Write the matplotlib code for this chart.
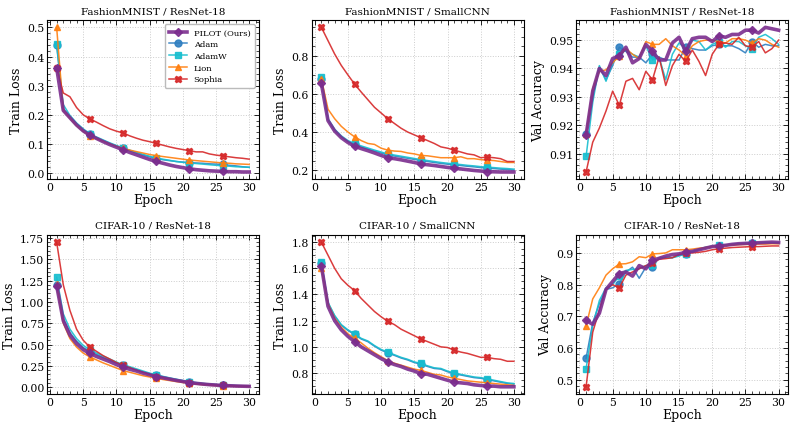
import numpy as np
import matplotlib
matplotlib.use('Agg')
import matplotlib.pyplot as plt
from matplotlib.ticker import MultipleLocator, AutoMinorLocator

epochs = np.arange(1, 31)
optimizers = ['PILOT (Ours)', 'Adam', 'AdamW', 'Lion', 'Sophia']

# FashionMNIST / ResNet-18 train loss
fm_res_loss = {
    'PILOT (Ours)': [0.362, 0.215, 0.19, 0.165, 0.145, 0.13, 0.119, 0.108, 0.098, 0.089, 0.08, 0.071, 0.063, 0.055, 0.047,
                     0.04, 0.034, 0.028, 0.023, 0.019, 0.015, 0.012, 0.01, 0.008, 0.007, 0.006, 0.005, 0.005, 0.004, 0.004],
    'Adam': [0.44, 0.22, 0.195, 0.17, 0.15, 0.133, 0.122, 0.112, 0.102, 0.093, 0.085, 0.077, 0.07, 0.063, 0.056,
             0.05, 0.046, 0.043, 0.04, 0.038, 0.036, 0.035, 0.034, 0.032, 0.031, 0.03, 0.027, 0.025, 0.022, 0.02],
    'AdamW': [0.442, 0.235, 0.198, 0.172, 0.152, 0.135, 0.124, 0.114, 0.104, 0.095, 0.087, 0.079, 0.071, 0.064, 0.058,
              0.052, 0.048, 0.044, 0.04, 0.037, 0.035, 0.033, 0.031, 0.029, 0.027, 0.025, 0.024, 0.022, 0.021, 0.02],
    'Lion': [0.5, 0.215, 0.188, 0.163, 0.143, 0.128, 0.118, 0.109, 0.1, 0.092, 0.085, 0.079, 0.074, 0.069, 0.064,
             0.06, 0.057, 0.054, 0.051, 0.048, 0.045, 0.043, 0.041, 0.039, 0.037, 0.035, 0.034, 0.032, 0.031, 0.03],
    'Sophia': [0.362, 0.275, 0.262, 0.225, 0.2, 0.186, 0.175, 0.163, 0.152, 0.144, 0.138, 0.128, 0.12, 0.113, 0.108,
               0.102, 0.096, 0.09, 0.085, 0.081, 0.077, 0.073, 0.073, 0.066, 0.062, 0.059, 0.056, 0.053, 0.051, 0.048],
}

# FashionMNIST / SmallCNN train loss
fm_cnn_loss = {
    'PILOT (Ours)': [0.655, 0.46, 0.405, 0.37, 0.345, 0.325, 0.313, 0.302, 0.29, 0.277, 0.265, 0.26, 0.254, 0.247, 0.24,
                     0.232, 0.228, 0.224, 0.219, 0.214, 0.21, 0.206, 0.202, 0.198, 0.195, 0.192, 0.191, 0.19, 0.19, 0.19],
    'Adam': [0.68, 0.465, 0.41, 0.375, 0.35, 0.335, 0.322, 0.311, 0.3, 0.29, 0.28, 0.274, 0.268, 0.262, 0.256,
             0.25, 0.245, 0.24, 0.235, 0.231, 0.228, 0.224, 0.22, 0.217, 0.213, 0.21, 0.208, 0.205, 0.203, 0.2],
    'AdamW': [0.687, 0.47, 0.415, 0.38, 0.355, 0.34, 0.327, 0.316, 0.305, 0.295, 0.285, 0.279, 0.273, 0.267, 0.261,
              0.255, 0.25, 0.245, 0.24, 0.236, 0.232, 0.229, 0.225, 0.222, 0.218, 0.215, 0.213, 0.21, 0.208, 0.205],
    'Lion': [0.68, 0.52, 0.47, 0.43, 0.4, 0.375, 0.355, 0.34, 0.335, 0.315, 0.305, 0.3, 0.298, 0.29, 0.285,
             0.277, 0.275, 0.27, 0.265, 0.265, 0.265, 0.27, 0.26, 0.26, 0.255, 0.252, 0.25, 0.245, 0.24, 0.24],
    'Sophia': [0.95, 0.88, 0.81, 0.75, 0.7, 0.652, 0.61, 0.57, 0.53, 0.5, 0.47, 0.445, 0.42, 0.4, 0.385,
               0.37, 0.355, 0.34, 0.322, 0.315, 0.305, 0.295, 0.285, 0.28, 0.265, 0.268, 0.265, 0.26, 0.245, 0.245],
}

# FashionMNIST / ResNet-18 val accuracy
fm_res_acc = {
    'PILOT (Ours)': [0.9165, 0.932, 0.940, 0.9375, 0.9435, 0.9445, 0.9475, 0.942, 0.9435, 0.9485, 0.946, 0.943, 0.943, 0.949, 0.951,
                     0.946, 0.9505, 0.951, 0.951, 0.9495, 0.9515, 0.951, 0.952, 0.952, 0.9535, 0.9535, 0.9525, 0.9545, 0.954, 0.9535],
    'Adam': [0.917, 0.930, 0.9405, 0.936, 0.941, 0.9475, 0.946, 0.944, 0.944, 0.942, 0.945, 0.944, 0.943, 0.943, 0.943,
             0.9475, 0.947, 0.9465, 0.9465, 0.948, 0.9485, 0.948, 0.948, 0.947, 0.9455, 0.9495, 0.9475, 0.9485, 0.948, 0.948],
    'AdamW': [0.909, 0.928, 0.941, 0.9355, 0.942, 0.945, 0.9465, 0.945, 0.944, 0.948, 0.943, 0.944, 0.936, 0.945, 0.949,
              0.947, 0.950, 0.9495, 0.9465, 0.9485, 0.9495, 0.9475, 0.9495, 0.9495, 0.948, 0.947, 0.951, 0.952, 0.9505, 0.9485],
    'Lion': [0.917, 0.933, 0.939, 0.9395, 0.942, 0.9445, 0.947, 0.945, 0.9435, 0.9495, 0.9485, 0.9485, 0.9505, 0.948, 0.9465,
             0.9445, 0.948, 0.9495, 0.950, 0.950, 0.9495, 0.949, 0.9505, 0.9505, 0.950, 0.949, 0.9505, 0.950, 0.9485, 0.9475],
    'Sophia': [0.9035, 0.914, 0.919, 0.925, 0.932, 0.927, 0.9355, 0.9365, 0.9325, 0.939, 0.936, 0.944, 0.934, 0.941, 0.945,
               0.9425, 0.9465, 0.9425, 0.9375, 0.945, 0.9485, 0.949, 0.9485, 0.951, 0.948, 0.9475, 0.9495, 0.9455, 0.947, 0.950],
}

# CIFAR-10 / ResNet-18 train loss
c10_res_loss = {
    'PILOT (Ours)': [1.19, 0.78, 0.61, 0.51, 0.44, 0.395, 0.36, 0.33, 0.3, 0.265, 0.235, 0.21, 0.19, 0.165, 0.145,
                     0.125, 0.11, 0.095, 0.08, 0.067, 0.055, 0.045, 0.037, 0.03, 0.025, 0.02, 0.017, 0.014, 0.012, 0.01],
    'Adam': [1.2, 0.8, 0.64, 0.54, 0.465, 0.42, 0.385, 0.35, 0.315, 0.285, 0.255, 0.23, 0.205, 0.18, 0.16,
             0.14, 0.122, 0.105, 0.09, 0.075, 0.06, 0.05, 0.042, 0.035, 0.03, 0.025, 0.021, 0.018, 0.015, 0.013],
    'AdamW': [1.29, 0.86, 0.68, 0.57, 0.49, 0.44, 0.4, 0.365, 0.33, 0.295, 0.265, 0.24, 0.215, 0.19, 0.165,
              0.145, 0.127, 0.11, 0.094, 0.079, 0.065, 0.054, 0.045, 0.037, 0.031, 0.025, 0.022, 0.019, 0.017, 0.015],
    'Lion': [1.21, 0.75, 0.57, 0.47, 0.4, 0.355, 0.32, 0.285, 0.255, 0.225, 0.195, 0.175, 0.155, 0.135, 0.12,
             0.105, 0.09, 0.078, 0.066, 0.055, 0.045, 0.036, 0.029, 0.023, 0.018, 0.015, 0.011, 0.009, 0.007, 0.005],
    'Sophia': [1.7, 1.2, 0.9, 0.68, 0.55, 0.47, 0.42, 0.37, 0.33, 0.29, 0.255, 0.23, 0.2, 0.175, 0.15,
               0.125, 0.11, 0.095, 0.08, 0.065, 0.05, 0.04, 0.035, 0.03, 0.025, 0.02, 0.018, 0.015, 0.013, 0.012],
}

# CIFAR-10 / SmallCNN train loss
c10_cnn_loss = {
    'PILOT (Ours)': [1.62, 1.31, 1.2, 1.13, 1.08, 1.04, 1.0, 0.97, 0.94, 0.91, 0.885, 0.865, 0.85, 0.83, 0.815,
                     0.795, 0.79, 0.775, 0.76, 0.745, 0.73, 0.725, 0.72, 0.71, 0.705, 0.7, 0.7, 0.695, 0.695, 0.695],
    'Adam': [1.64, 1.335, 1.235, 1.165, 1.125, 1.095, 1.06, 1.04, 1.005, 0.975, 0.955, 0.935, 0.915, 0.9, 0.88,
             0.868, 0.85, 0.835, 0.83, 0.81, 0.795, 0.785, 0.775, 0.765, 0.76, 0.75, 0.74, 0.73, 0.72, 0.715],
    'AdamW': [1.645, 1.34, 1.24, 1.17, 1.13, 1.1, 1.065, 1.045, 1.01, 0.98, 0.96, 0.94, 0.92, 0.905, 0.885,
              0.873, 0.855, 0.84, 0.835, 0.815, 0.8, 0.79, 0.78, 0.77, 0.765, 0.755, 0.745, 0.735, 0.725, 0.72],
    'Lion': [1.6, 1.33, 1.22, 1.15, 1.1, 1.065, 1.03, 0.99, 0.955, 0.925, 0.895, 0.875, 0.86, 0.845, 0.83,
             0.82, 0.805, 0.79, 0.785, 0.77, 0.76, 0.75, 0.74, 0.735, 0.73, 0.725, 0.72, 0.715, 0.71, 0.705],
    'Sophia': [1.8, 1.7, 1.6, 1.52, 1.47, 1.43, 1.37, 1.32, 1.27, 1.23, 1.195, 1.17, 1.135, 1.11, 1.085,
               1.06, 1.04, 1.02, 1.0, 0.995, 0.975, 0.96, 0.95, 0.935, 0.92, 0.92, 0.91, 0.905, 0.89, 0.89],
}

# CIFAR-10 / ResNet-18 val accuracy
c10_res_acc = {
    'PILOT (Ours)': [0.687, 0.675, 0.71, 0.785, 0.81, 0.835, 0.84, 0.827, 0.86, 0.85, 0.877, 0.883, 0.89, 0.895, 0.897,
                     0.902, 0.905, 0.91, 0.915, 0.92, 0.922, 0.924, 0.927, 0.929, 0.93, 0.931, 0.932, 0.933, 0.934, 0.933],
    'Adam': [0.568, 0.68, 0.74, 0.785, 0.79, 0.803, 0.84, 0.855, 0.82, 0.855, 0.855, 0.885, 0.886, 0.885, 0.893,
             0.897, 0.903, 0.91, 0.916, 0.92, 0.923, 0.925, 0.927, 0.929, 0.93, 0.932, 0.932, 0.933, 0.933, 0.932],
    'AdamW': [0.535, 0.67, 0.75, 0.79, 0.8, 0.828, 0.845, 0.848, 0.85, 0.86, 0.862, 0.885, 0.885, 0.885, 0.89,
              0.898, 0.905, 0.912, 0.918, 0.921, 0.925, 0.925, 0.927, 0.929, 0.93, 0.932, 0.932, 0.933, 0.932, 0.932],
    'Lion': [0.67, 0.755, 0.79, 0.83, 0.85, 0.865, 0.866, 0.872, 0.888, 0.885, 0.897, 0.898, 0.9, 0.91, 0.91,
             0.91, 0.912, 0.915, 0.917, 0.92, 0.922, 0.923, 0.925, 0.926, 0.927, 0.927, 0.928, 0.928, 0.929, 0.929],
    'Sophia': [0.478, 0.65, 0.72, 0.785, 0.8, 0.79, 0.83, 0.84, 0.85, 0.86, 0.868, 0.88, 0.882, 0.885, 0.895,
               0.9, 0.9, 0.902, 0.905, 0.91, 0.913, 0.915, 0.917, 0.918, 0.919, 0.92, 0.92, 0.921, 0.922, 0.922],
}

panels = [
    ('FashionMNIST / ResNet-18', 'Train Loss', fm_res_loss, 0.1),
    ('FashionMNIST / SmallCNN', 'Train Loss', fm_cnn_loss, 0.2),
    ('FashionMNIST / ResNet-18', 'Val Accuracy', fm_res_acc, 0.01),
    ('CIFAR-10 / ResNet-18', 'Train Loss', c10_res_loss, 0.25),
    ('CIFAR-10 / SmallCNN', 'Train Loss', c10_cnn_loss, 0.2),
    ('CIFAR-10 / ResNet-18', 'Val Accuracy', c10_res_acc, 0.1),
]

colors = {'PILOT (Ours)': '#7b2d8e', 'Adam': '#2f7fc1', 'AdamW': '#17becf',
          'Lion': '#ff7f0e', 'Sophia': '#d62728'}
markers = {'PILOT (Ours)': 'D', 'Adam': 'o', 'AdamW': 's', 'Lion': '^', 'Sophia': 'X'}

plt.rcParams['font.family'] = ['DejaVu Serif']
plt.rcParams['xtick.direction'] = 'in'
plt.rcParams['ytick.direction'] = 'in'
plt.rcParams['xtick.top'] = True
plt.rcParams['ytick.right'] = True

fig, axes = plt.subplots(2, 3, figsize=(7.97, 4.31), dpi=100)
fig.subplots_adjust(left=0.059, right=0.989, top=0.951, bottom=0.0835, wspace=0.25, hspace=0.35)

for ax, (title, ylabel, data, ystep) in zip(axes.flat, panels):
    for name in optimizers:
        pilot = name == 'PILOT (Ours)'
        ax.plot(epochs, data[name], color=colors[name], lw=2.6 if pilot else 1.1,
                marker=markers[name], markersize=4.5 if pilot else 5, markevery=(0, 5),
                alpha=0.9, label=name, zorder=3 if pilot else 2)
    ax.set_title(title, fontsize=7.5, pad=5)
    ax.set_xlabel('Epoch', fontsize=9, labelpad=1)
    ax.set_ylabel(ylabel, fontsize=9, labelpad=3)
    ax.set_xticks([0, 5, 10, 15, 20, 25, 30])
    ax.xaxis.set_minor_locator(MultipleLocator(1))
    ax.yaxis.set_major_locator(MultipleLocator(ystep))
    ax.yaxis.set_minor_locator(AutoMinorLocator())
    ax.tick_params(labelsize=7.8, pad=2)
    ax.tick_params(which='major', length=3.5, width=0.6)
    ax.tick_params(which='minor', length=2, width=0.5)
    ax.grid(True, linestyle=':', color='#cccccc', linewidth=0.7)
    for s in ax.spines.values():
        s.set_linewidth(0.8)

axes[0, 0].legend(loc='upper right', fontsize=6, framealpha=1, edgecolor='#bbbbbb',
                  handlelength=2.2, borderpad=0.5, labelspacing=0.45)

fig.savefig('out.png', dpi=100)
